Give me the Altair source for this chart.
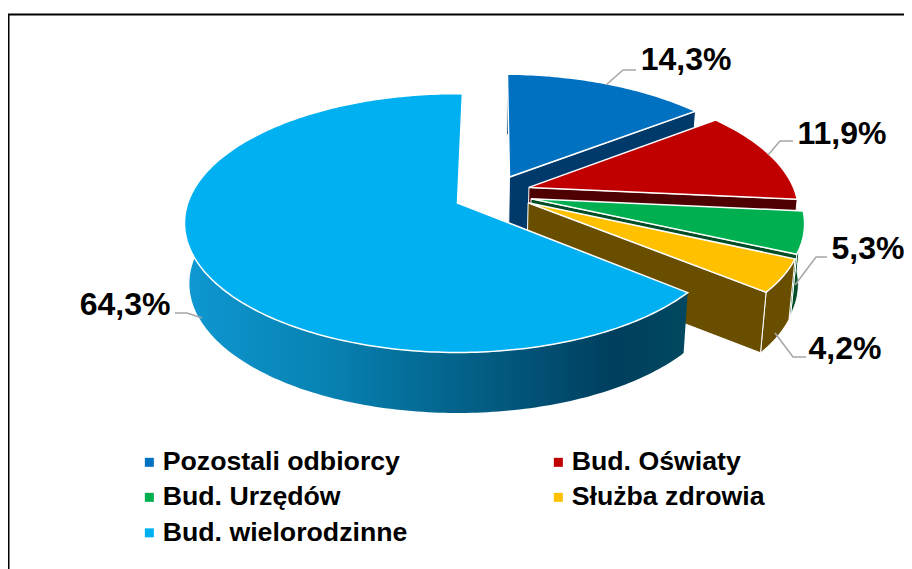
import math
import numpy as np
import altair as alt

# ---- chart values -------------------------------------------------------
CATEGORIES = ["Pozostali odbiorcy", "Bud. Oświaty", "Bud. Urzędów", "Służba zdrowia", "Bud. wielorodzinne"]
VALUES = [14.3, 11.9, 5.3, 4.2, 64.3]
TOP_COLORS = ["#0070C0", "#C00000", "#00B050", "#FFC000", "#00B0F0"]
WALL_COLORS = ["#003A6B", "#4F0000", "#004D26", "#6A4E00", None]

# ---- pie layout (perspective + explosion, disk units) ---------------------
W, H = 896, 561
MARGIN = 8
CX, CY, AX, BY, PERSP = 457.5, 203.0, 269.7, 126.3, 0.155
ROTATION = 1.2
DEPTH = 60.5
SHRINK = 0.982
EXPLODE = [(0.199, 0.212), (0.270, 0.126), (0.274, 0.034), (0.262, 0.002), (0.0, 0.0)]
LABEL_XY = [(686, 60), (842, 134), (868, 249), (845, 349), (125, 305)]
LEADERS = [
    [(606, 85), (623, 70), (636, 70)],
    [(768, 155), (780, 141), (793, 141)],
    [(795, 285), (816, 257), (827, 257)],
    [(775, 333), (793, 357), (806, 357)],
    [(202, 318), (187, 313), (175, 313)],
]


def project(x, y, lower=False):
    s = 1.0 / (1.0 + PERSP * y)
    px = AX * x * s
    py = BY * y * s
    if lower:
        return [CX + px * SHRINK - MARGIN, CY - py + DEPTH - MARGIN]
    return [CX + px - MARGIN, CY - py - MARGIN]


def rim(off, a0, a1, lower=False):
    n = max(2, int(abs(a1 - a0)) + 2)
    out = []
    for a in np.linspace(a0, a1, n):
        r = math.radians(a)
        out.append(project(off[0] + math.sin(r), off[1] + math.cos(r), lower))
    return out


def polygon(coords, **props):
    ring = coords + [coords[0]]
    return {"type": "Feature", "properties": props,
            "geometry": {"type": "Polygon", "coordinates": [ring]}}


def polyline(coords):
    return {"type": "Feature", "properties": {},
            "geometry": {"type": "LineString", "coordinates": coords}}


PROJ = alt.Projection(type="identity", scale=1, translate=[0, 0])
color_scale = alt.Scale(domain=CATEGORIES, range=TOP_COLORS)
legend = alt.Legend(
    title=None, orient="none", legendX=128, legendY=440.5, columns=2, direction="horizontal",
    columnPadding=137, rowPadding=7.5, symbolType="square", symbolSize=81,
    symbolStrokeWidth=0, symbolOffset=0, labelOffset=0, labelFont="Liberation Sans",
    labelFontWeight="bold", labelFontSize=26.7, labelColor="#000000", labelLimit=400,
    padding=0,
)

layers = []
start = ROTATION
total = sum(VALUES)
slices = []
for i, v in enumerate(VALUES):
    end = start + v / total * 360.0
    slices.append((start, end))
    start = end

for i, name in enumerate(CATEGORIES):
    a0, a1 = slices[i]
    off = EXPLODE[i]
    apex_t = project(off[0], off[1])
    apex_b = project(off[0], off[1], True)
    if WALL_COLORS[i]:
        # outer wall first, radial wall over it
        t = rim(off, a0, a1)
        b = rim(off, a0, a1, True)
        outer = polygon(t + b[::-1])
        layers.append(alt.Chart(alt.Data(values=[outer])).mark_geoshape(
            fill=WALL_COLORS[i], stroke="#FFFFFF", strokeWidth=1).project(**PROJ.to_dict()))
        rt = rim(off, a1, a1)[0]
        rb = rim(off, a1, a1, True)[0]
        wall = polygon([apex_t, rt, rb, apex_b])
        layers.append(alt.Chart(alt.Data(values=[wall])).mark_geoshape(
            fill=WALL_COLORS[i], stroke="#FFFFFF", strokeWidth=1).project(**PROJ.to_dict()))
    else:
        # big slice: gradient outer wall, only the part facing the viewer
        w0, w1 = a0, 272.0
        t = rim(off, w0, w1)
        b = rim(off, w0, w1, True)
        outer = polygon(t + b[::-1])
        grad = alt.Gradient(
            gradient="linear", x1=0, y1=0, x2=1, y2=0,
            stops=[
                alt.GradientStop(offset=0.0, color="#0E98D2"),
                alt.GradientStop(offset=0.3, color="#0780B0"),
                alt.GradientStop(offset=0.55, color="#03628A"),
                alt.GradientStop(offset=0.85, color="#003F5E"),
                alt.GradientStop(offset=1.0, color="#00485F"),
            ],
        )
        layers.append(alt.Chart(alt.Data(values=[outer])).mark_geoshape(
            fill=grad, strokeWidth=0).project(**PROJ.to_dict()))
    top = polygon([apex_t] + rim(off, a0, a1), name=name)
    layers.append(alt.Chart(alt.Data(values=[top])).mark_geoshape(
        stroke="#FFFFFF", strokeWidth=1.5).encode(
        color=alt.Color("properties.name:N", scale=color_scale, legend=legend)
    ).project(**PROJ.to_dict()))

# frame (top and left edges only)
frame = polyline([[0, 6.5], [W, 6.5]])
frame2 = polyline([[0.6, 6.5], [0.6, H]])
for f, sw in ((frame, 2), (frame2, 1.8)):
    layers.append(alt.Chart(alt.Data(values=[f])).mark_geoshape(
        filled=False, stroke="#000000", strokeWidth=sw).project(**PROJ.to_dict()))

# leader lines
for pts in LEADERS:
    line = polyline([[p[0] - MARGIN, p[1] - MARGIN] for p in pts])
    layers.append(alt.Chart(alt.Data(values=[line])).mark_geoshape(
        filled=False, stroke="#A6A6A6", strokeWidth=1.5).project(**PROJ.to_dict()))

# data labels
label_rows = [
    {"t": f"{v:.1f}%".replace(".", ","), "x": p[0] - MARGIN, "y": p[1] - MARGIN}
    for v, p in zip(VALUES, LABEL_XY)
]
layers.append(alt.Chart(alt.Data(values=label_rows)).mark_text(
    font="Liberation Sans", fontWeight="bold", fontSize=32, color="#000000",
    align="center", baseline="middle").encode(
    x=alt.X("x:Q", scale=None, axis=None),
    y=alt.Y("y:Q", scale=None, axis=None),
    text="t:N",
))

chart = alt.layer(*layers).properties(
    width=W, height=H, padding=0, background="#FFFFFF",
    autosize=alt.AutoSizeParams(type="none"),
).configure_view(stroke=None)

chart.save("out.html", embed_options={"renderer": "svg", "actions": False})
